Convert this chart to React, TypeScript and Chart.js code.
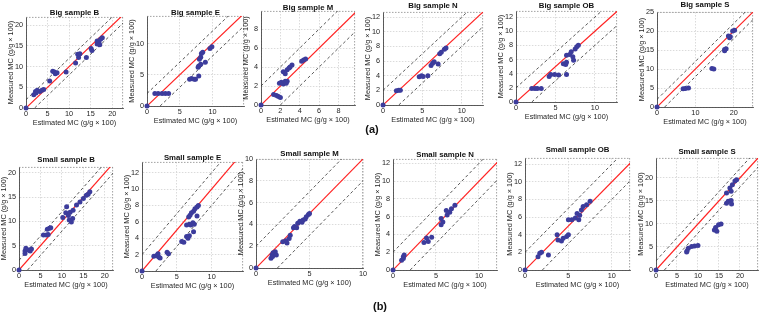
import React, { useEffect, useRef } from "react";
import { Chart, registerables } from "chart.js";
Chart.register(...registerables);

// ---------- data (estimated MC vs measured MC, g/g × 100) ----------
const BAND = 2; // ± band of the dashed lines

const bigB_est = [0, 1.8, 2.2, 2.3, 2.6, 3.2, 3.7, 4.1, 5.5, 6.2, 6.6, 6.8, 7.2, 9.3, 11.5, 12.0, 12.2, 12.5, 14.0, 15.1, 15.3, 16.5, 16.5, 16.9, 17.1, 17.3, 17.7];
const bigB_meas = [0, 3.2, 4.0, 3.6, 4.3, 4.0, 4.3, 4.5, 6.5, 8.9, 8.7, 8.3, 8.5, 8.7, 10.9, 13.0, 12.2, 13.1, 12.2, 14.4, 13.9, 15.5, 16.2, 15.9, 15.3, 16.6, 17.0];

const bigE_est = [0, 1.2, 1.7, 2.3, 2.8, 3.3, 6.5, 6.8, 7.2, 7.4, 7.9, 7.8, 7.9, 8.2, 8.0, 8.2, 8.3, 8.5, 8.9, 9.6, 9.9];
const bigE_meas = [0, 2.0, 2.0, 2.0, 2.0, 2.0, 4.3, 4.4, 4.3, 4.3, 4.8, 6.2, 6.4, 6.7, 7.5, 7.8, 8.4, 8.6, 7.0, 9.2, 9.5];

const bigM_est = [0, 1.3, 1.6, 1.8, 2.0, 1.9, 2.1, 2.3, 2.5, 2.7, 2.6, 2.3, 2.5, 2.7, 2.9, 3.0, 3.2, 4.2, 4.4, 4.6];
const bigM_meas = [0, 1.1, 1.0, 0.9, 0.8, 2.3, 2.4, 2.2, 2.5, 2.5, 2.3, 3.5, 3.3, 3.7, 3.9, 4.0, 4.2, 4.6, 4.75, 4.85];

const bigN_est = [0, 1.7, 2.0, 2.2, 4.6, 4.9, 5.1, 5.7, 6.1, 6.3, 6.5, 7.0, 7.2, 7.4, 7.8, 8.0];
const bigN_meas = [0, 1.95, 2.0, 2.0, 3.85, 4.0, 3.9, 4.0, 5.4, 5.7, 5.9, 5.6, 7.0, 7.2, 7.6, 7.8];

const bigOB_est = [0, 2.0, 2.4, 2.7, 3.2, 4.2, 4.4, 4.9, 5.4, 6.4, 6.0, 6.3, 6.4, 6.4, 6.8, 7.0, 7.5, 7.7, 7.9, 7.3, 7.2];
const bigOB_meas = [0, 1.9, 1.9, 1.9, 1.9, 3.6, 3.9, 3.9, 3.8, 3.9, 5.4, 5.3, 5.6, 6.6, 6.7, 7.1, 7.5, 7.8, 8.0, 5.9, 6.4];

const bigS_est = [0, 6.8, 7.4, 8.2, 14.3, 14.8, 17.6, 18.0, 17.6, 18.9, 19.1, 18.6, 19.7, 20.2];
const bigS_meas = [0, 4.8, 4.9, 5.0, 10.1, 10.0, 15.1, 15.3, 14.8, 18.2, 18.5, 18.7, 20.0, 20.2];

const smallB_est = [0, 1.4, 1.4, 1.6, 2.2, 2.6, 2.9, 5.7, 6.4, 6.8, 6.6, 7.1, 7.4, 10.2, 10.9, 11.1, 11.7, 12.2, 12.5, 11.5, 11.9, 12.6, 13.4, 14.2, 15.0, 15.7, 16.1, 16.5];
const smallB_meas = [0, 3.9, 3.4, 4.5, 4.1, 3.9, 4.3, 7.2, 7.2, 7.3, 8.4, 8.6, 8.7, 10.8, 11.8, 13.0, 10.3, 9.9, 10.6, 11.2, 11.9, 12.3, 13.4, 14.0, 14.7, 15.4, 15.6, 16.1];

const smallE_est = [0, 1.7, 2.1, 2.4, 2.6, 2.3, 3.6, 3.8, 5.7, 6.0, 6.4, 6.6, 6.8, 7.4, 6.4, 6.8, 7.0, 7.3, 7.5, 7.9, 6.7, 6.9, 7.1, 7.4, 7.6, 7.9, 8.1];
const smallE_meas = [0, 1.8, 1.9, 1.7, 1.6, 2.1, 2.3, 2.1, 3.6, 3.5, 4.2, 4.0, 4.3, 4.8, 5.6, 5.7, 5.6, 5.9, 5.7, 6.7, 6.6, 6.8, 7.1, 7.3, 7.6, 7.8, 8.0];

const smallM_est = [0, 1.4, 1.5, 1.6, 1.8, 1.55, 1.9, 2.5, 2.8, 2.9, 3.1, 3.2, 3.5, 3.6, 3.8, 3.9, 4.1, 4.3, 4.4, 4.6, 4.7, 4.9, 5.0];
const smallM_meas = [0, 0.9, 1.2, 1.4, 1.5, 1.05, 1.2, 2.4, 2.5, 2.3, 2.7, 3.0, 3.7, 3.8, 3.7, 4.1, 4.3, 4.2, 4.4, 4.5, 4.7, 4.9, 5.0];

const smallN_est = [0, 1.0, 1.2, 1.3, 1.2, 3.6, 3.9, 4.1, 4.5, 5.6, 5.8, 5.6, 6.2, 6.3, 6.6, 6.8, 7.2];
const smallN_meas = [0, 1.1, 1.5, 1.7, 1.3, 3.1, 3.6, 3.2, 3.7, 5.1, 5.4, 5.8, 6.7, 6.2, 6.5, 6.9, 7.3];

const smallOB_est = [0, 1.5, 1.7, 1.9, 2.7, 3.7, 3.8, 4.2, 4.4, 4.8, 5.0, 5.0, 5.4, 5.8, 6.0, 6.2, 6.3, 6.5, 6.7, 7.1, 7.5];
const smallOB_meas = [0, 1.5, 1.9, 2.0, 1.7, 4.0, 3.4, 3.3, 3.6, 3.8, 4.0, 5.7, 5.7, 5.9, 6.4, 5.7, 6.2, 6.8, 7.2, 7.4, 7.8];

const smallS_est = [0, 7.4, 7.7, 8.5, 9.2, 10.0, 7.3, 13.9, 14.2, 14.9, 15.5, 14.5, 16.8, 17.2, 17.9, 18.0, 16.8, 17.6, 18.2, 18.8, 17.9, 19.2];
const smallS_meas = [0, 4.1, 4.7, 5.1, 5.2, 5.3, 3.9, 8.7, 9.2, 9.8, 10.0, 8.4, 14.5, 14.9, 15.1, 14.3, 16.7, 17.8, 18.5, 19.3, 17.1, 19.6];

const panelTitles = [
  "Big sample B", "Big sample E", "Big sample M", "Big sample N", "Big sample OB", "Big sample S",
  "Small sample B", "Small sample E", "Small sample M", "Small sample N", "Small sample OB", "Small sample S",
];
const xAxisTitle = "Estimated MC (g/g × 100)";
const yAxisTitle = "Measured MC (g/g × 100)";
const rowLabels = ["(a)", "(b)"];

// ---------- layout ----------
type PanelSpec = {
  title: string;
  est: number[];
  meas: number[];
  xMax: number;
  yMax: number;
  xStep: number;
  yStep: number;
  rect: [number, number, number, number]; // plot area L,T,R,B in page px
  gap: number; // title centre above plot top
};

const PANELS: PanelSpec[] = [
  { title: panelTitles[0], est: bigB_est, meas: bigB_meas, xMax: 22.5, yMax: 22, xStep: 5, yStep: 5, rect: [26, 17, 123, 108], gap: 4 },
  { title: panelTitles[1], est: bigE_est, meas: bigE_meas, xMax: 14.8, yMax: 14.4, xStep: 5, yStep: 5, rect: [147, 16, 244, 106], gap: 3.5 },
  { title: panelTitles[2], est: bigM_est, meas: bigM_meas, xMax: 9.7, yMax: 9.9, xStep: 2, yStep: 2, rect: [261, 11, 355, 105], gap: 3.5 },
  { title: panelTitles[3], est: bigN_est, meas: bigN_meas, xMax: 12.7, yMax: 12.7, xStep: 5, yStep: 2, rect: [383, 12, 483, 105], gap: 6 },
  { title: panelTitles[4], est: bigOB_est, meas: bigOB_meas, xMax: 12.8, yMax: 12.85, xStep: 5, yStep: 2, rect: [516, 11, 617, 102], gap: 5 },
  { title: panelTitles[5], est: bigS_est, meas: bigS_meas, xMax: 25, yMax: 25, xStep: 10, yStep: 5, rect: [657, 12, 753, 107], gap: 7 },
  { title: panelTitles[6], est: smallB_est, meas: smallB_meas, xMax: 21.9, yMax: 21.2, xStep: 5, yStep: 5, rect: [19, 167, 113, 270], gap: 7 },
  { title: panelTitles[7], est: smallE_est, meas: smallE_meas, xMax: 14.5, yMax: 13.3, xStep: 5, yStep: 2, rect: [142, 162, 243, 271], gap: 4 },
  { title: panelTitles[8], est: smallM_est, meas: smallM_meas, xMax: 10, yMax: 10, xStep: 5, yStep: 2, rect: [256, 159, 363, 268], gap: 5 },
  { title: panelTitles[9], est: smallN_est, meas: smallN_meas, xMax: 12.1, yMax: 12.5, xStep: 5, yStep: 2, rect: [393, 159, 497, 270], gap: 4 },
  { title: panelTitles[10], est: smallOB_est, meas: smallOB_meas, xMax: 12.1, yMax: 12.7, xStep: 5, yStep: 2, rect: [525, 158, 630, 270], gap: 8 },
  { title: panelTitles[11], est: smallS_est, meas: smallS_meas, xMax: 24.3, yMax: 24.3, xStep: 5, yStep: 5, rect: [656, 158, 758, 270], gap: 6 },
];

const ML = 32, MT = 18, MR = 10, MB = 26;
const FONT = '"Liberation Sans", Arial, Helvetica, sans-serif';
const TXT = "#262626";
const POINT = "#3c3c9c";
const RED = "#ff2222";

const framePlugin = {
  id: "panelFrame",
  beforeDatasetsDraw(chart: any) {
    const { ctx, chartArea } = chart;
    const { left, top, right, bottom } = chartArea;
    ctx.save();
    ctx.strokeStyle = "#8a8a8a";
    ctx.lineWidth = 0.8;
    ctx.setLineDash([1.5, 1.5]);
    ctx.beginPath();
    ctx.moveTo(left, top + 0.4);
    ctx.lineTo(right, top + 0.4);
    ctx.moveTo(right - 0.4, top);
    ctx.lineTo(right - 0.4, bottom);
    ctx.stroke();
    ctx.restore();
  },
  afterDraw(chart: any, _a: any, opts: any) {
    const { ctx, chartArea } = chart;
    const { left, top, right } = chartArea;
    ctx.save();
    ctx.fillStyle = "#111";
    ctx.font = `bold 7.8px ${FONT}`;
    ctx.textAlign = "center";
    ctx.textBaseline = "middle";
    ctx.fillText(opts.text, (left + right) / 2, top - opts.gap);
    ctx.restore();
  },
};

function PanelChart({ p }: { p: PanelSpec }) {
  const ref = useRef<HTMLCanvasElement>(null);
  const [L, T, R, B] = p.rect;
  const W = R - L + ML + MR;
  const H = B - T + MT + MB;
  useEffect(() => {
    const M = Math.max(p.xMax, p.yMax) + BAND;
    const tickFont = { family: FONT, size: 7.3 };
    const zeroPad = (s: any) => {
      s.paddingLeft = 0;
      s.paddingRight = 0;
      s.paddingTop = 0;
      s.paddingBottom = 0;
    };
    const chart = new Chart(ref.current as HTMLCanvasElement, {
      type: "scatter",
      data: {
        datasets: [
          {
            data: p.est.map((x, i) => ({ x, y: p.meas[i] })),
            backgroundColor: POINT,
            borderColor: POINT,
            borderWidth: 0,
            pointRadius: 2.5,
            clip: false as any,
          },
          {
            data: [{ x: 0, y: 0 }, { x: M, y: M }],
            showLine: true,
            borderColor: RED,
            borderWidth: 1.2,
            pointRadius: 0,
            clip: 0 as any,
          },
          {
            data: [{ x: 0, y: BAND }, { x: M, y: M + BAND }],
            showLine: true,
            borderColor: "#303030",
            borderWidth: 0.8,
            borderDash: [3, 2.5],
            pointRadius: 0,
            clip: 0 as any,
          },
          {
            data: [{ x: BAND, y: 0 }, { x: M + BAND, y: M }],
            showLine: true,
            borderColor: "#303030",
            borderWidth: 0.8,
            borderDash: [3, 2.5],
            pointRadius: 0,
            clip: 0 as any,
          },
        ],
      },
      options: {
        animation: false,
        responsive: false,
        events: [],
        layout: { padding: { left: 0, top: MT, right: MR, bottom: 0 } },
        plugins: {
          legend: { display: false },
          tooltip: { enabled: false },
          panelFrame: { text: p.title, gap: p.gap },
        } as any,
        scales: {
          x: {
            type: "linear",
            min: 0,
            max: p.xMax,
            ticks: {
              stepSize: p.xStep,
              includeBounds: false,
              autoSkip: false,
              maxRotation: 0,
              padding: 2,
              font: tickFont,
              color: TXT,
            },
            grid: { color: "#d2d2d2", lineWidth: 0.8, drawTicks: false },
            border: { color: "#333", width: 0.8, dash: [1.5, 1.5] },
            title: {
              display: true,
              text: xAxisTitle,
              font: tickFont,
              color: TXT,
              padding: { top: 0, bottom: 6.6 },
            },
            afterFit: (s: any) => {
              s.height = MB;
              zeroPad(s);
            },
          },
          y: {
            type: "linear",
            min: 0,
            max: p.yMax,
            ticks: {
              stepSize: p.yStep,
              includeBounds: false,
              autoSkip: false,
              padding: 3,
              font: tickFont,
              color: TXT,
            },
            grid: { color: "#d2d2d2", lineWidth: 0.8, drawTicks: false },
            border: { color: "#333", width: 0.8, dash: [1.5, 1.5] },
            title: {
              display: true,
              text: yAxisTitle,
              font: tickFont,
              color: TXT,
              padding: { top: 12.6, bottom: 0 },
            },
            afterFit: (s: any) => {
              s.width = ML;
              zeroPad(s);
            },
          },
        },
      } as any,
      plugins: [framePlugin as any],
    });
    return () => chart.destroy();
  }, []);
  return (
    <canvas
      ref={ref}
      width={W}
      height={H}
      style={{ position: "absolute", left: L - ML, top: T - MT, width: W, height: H }}
    />
  );
}

export default function App() {
  return (
    <div
      style={{
        position: "fixed",
        left: 0,
        top: 0,
        width: 760,
        height: 313,
        overflow: "hidden",
        background: "#fff",
      }}
    >
      {PANELS.map((p, i) => (
        <PanelChart key={i} p={p} />
      ))}
      {rowLabels.map((t, i) => (
        <div
          key={t}
          style={{
            position: "absolute",
            left: i === 0 ? 372 : 380,
            top: i === 0 ? 129 : 306,
            transform: "translate(-50%, -50%)",
            font: `bold 11px ${FONT}`,
            color: "#111",
            whiteSpace: "nowrap",
          }}
        >
          {t}
        </div>
      ))}
    </div>
  );
}
